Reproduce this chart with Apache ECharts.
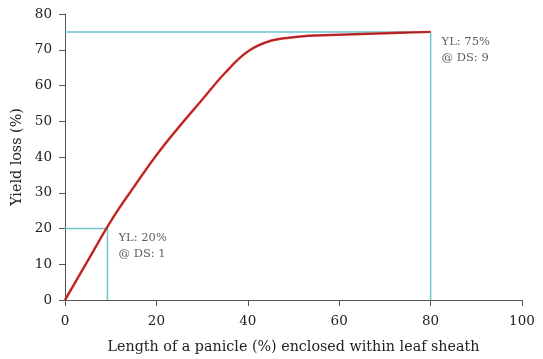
<!DOCTYPE html>
<html>
<head>
<meta charset="utf-8">
<script src="https://cdn.jsdelivr.net/npm/echarts@6/dist/echarts.min.js"></script>
<style>
  html, body { margin: 0; padding: 0; background: #fff; }
  #main { width: 543px; height: 359px; }
</style>
</head>
<body>
<div id="main"></div>
<script>
// curve: panicle enclosed (%) -> yield loss (%)
var enclosed = [0, 5, 10, 15, 20, 25, 30, 35, 40, 45, 50, 55, 60, 70, 80];
var yieldLoss = [0, 11, 22, 31.5, 40.5, 48.5, 56, 63.5, 69.5, 72.5, 73.5, 74, 74.2, 74.6, 75];

// reference guides (DS 1 and DS 9)
var ds1 = [9.3, 20];
var ds9 = [80, 75];

var chart = echarts.init(document.getElementById('main'));

var curve = enclosed.map(function (x, i) { return [x, yieldLoss[i]]; });
var font = 'DejaVu Serif, serif';
var cyan = '#6ec6cf';

var option = {
  animation: false,
  grid: { left: 65, right: 21, top: 14, bottom: 58 },
  xAxis: {
    type: 'value',
    min: 0, max: 100, interval: 20,
    name: 'Length of a panicle (%) enclosed within leaf sheath',
    nameLocation: 'middle',
    nameGap: 40,
    nameTextStyle: { fontFamily: font, fontSize: 14.3, color: '#222' },
    axisLine: { lineStyle: { color: '#555', width: 1 } },
    axisTick: { length: 6, lineStyle: { color: '#555' } },
    axisLabel: { fontFamily: font, fontSize: 13.5, color: '#222', margin: 14 },
    splitLine: { show: false }
  },
  yAxis: {
    type: 'value',
    min: 0, max: 80, interval: 10,
    name: 'Yield loss (%)',
    nameLocation: 'middle',
    nameGap: 40,
    nameTextStyle: { fontFamily: font, fontSize: 14.3, color: '#222' },
    axisLine: { show: true, lineStyle: { color: '#555', width: 1 } },
    axisTick: { show: true, length: 6, lineStyle: { color: '#555' } },
    axisLabel: { fontFamily: font, fontSize: 13.5, color: '#222', margin: 13 },
    splitLine: { show: false }
  },
  series: [
    {
      type: 'line',
      data: [[0, ds9[1]], ds9, [ds9[0], 0]],
      symbol: 'none',
      lineStyle: { color: cyan, width: 1.5 },
      z: 1
    },
    {
      type: 'line',
      data: [[0, ds1[1]], ds1, [ds1[0], 0]],
      symbol: 'none',
      lineStyle: { color: cyan, width: 1.5 },
      z: 1
    },
    {
      type: 'line',
      data: curve,
      smooth: 0.4,
      symbol: 'none',
      lineStyle: { color: '#e03030', width: 2.5 },
      z: 3
    },
    {
      type: 'line',
      data: curve,
      smooth: 0.4,
      symbol: 'none',
      lineStyle: { color: '#7a1f1f', width: 0.8 },
      z: 4
    },
    {
      type: 'scatter',
      symbolSize: 0,
      data: [
        { value: ds9, label: { formatter: 'YL: 75%\n@ DS: 9' } },
        { value: ds1, label: { formatter: 'YL: 20%\n@ DS: 1' } }
      ],
      label: {
        show: true,
        position: 'right',
        distance: 0,
        align: 'left',
        verticalAlign: 'top',
        offset: [11, 2],
        fontFamily: font,
        fontSize: 11.5,
        lineHeight: 16,
        color: '#333'
      },
      z: 5
    }
  ]
};

chart.setOption(option);
</script>
</body>
</html>
